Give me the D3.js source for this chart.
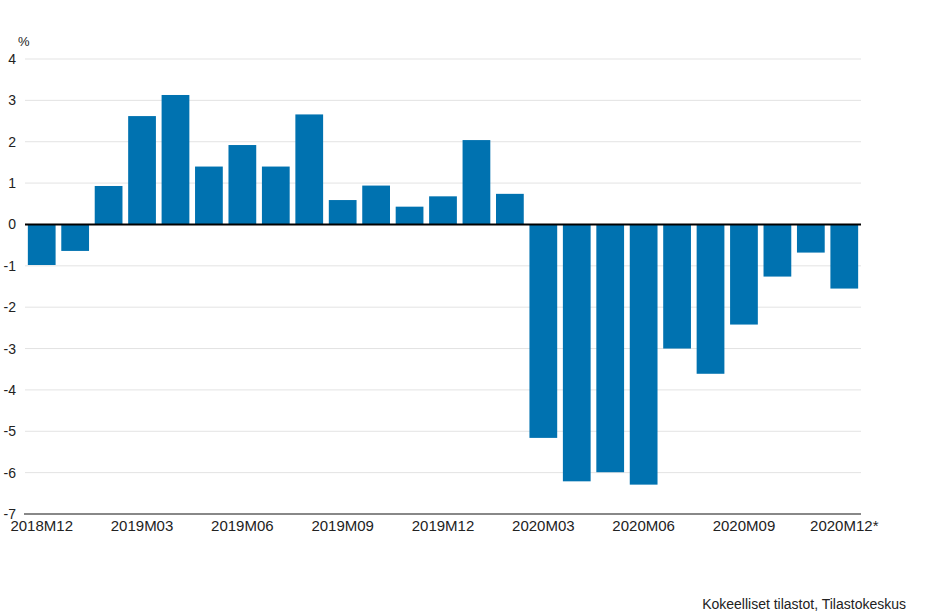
<!DOCTYPE html>
<html>
<head>
<meta charset="utf-8">
<script src="https://cdn.jsdelivr.net/npm/d3@7"></script>
<style>
  body { margin: 0; background: #fff; }
  svg { font-family: "Liberation Sans", Arial, sans-serif; }
</style>
</head>
<body>
<svg id="chart" width="926" height="615"></svg>
<script>
// months shown on the x axis
var months = ["2018M12","2019M01","2019M02","2019M03","2019M04","2019M05","2019M06",
  "2019M07","2019M08","2019M09","2019M10","2019M11","2019M12","2020M01","2020M02",
  "2020M03","2020M04","2020M05","2020M06","2020M07","2020M08","2020M09","2020M10",
  "2020M11","2020M12*"];

// change, %
var values = [-0.98, -0.64, 0.93, 2.62, 3.13, 1.40, 1.92, 1.40, 2.66, 0.59, 0.94, 0.43,
  0.68, 2.04, 0.74, -5.16, -6.21, -5.99, -6.29, -3.00, -3.61, -2.42, -1.26, -0.68, -1.55];

var yTicks = [4, 3, 2, 1, 0, -1, -2, -3, -4, -5, -6, -7];
var xTickLabels = ["2018M12","2019M03","2019M06","2019M09","2019M12","2020M03","2020M06","2020M09","2020M12*"];

var plotL = 25, plotR = 861, plotT = 59, plotB = 514;

var svg = d3.select('#chart');

var x = d3.scaleBand()
  .domain(months)
  .range([plotL, plotR])
  .paddingInner(0.17)
  .paddingOuter(0.085);

var y = d3.scaleLinear()
  .domain([-7, 4])
  .range([plotB, plotT]);

// grid lines
svg.append('g')
  .selectAll('line')
  .data(yTicks.filter(d => d != 0 && d != -7))
  .enter().append('line')
  .attr('x1', plotL).attr('x2', plotR)
  .attr('y1', d => y(d)).attr('y2', d => y(d))
  .attr('stroke', '#e3e3e3')
  .attr('stroke-width', 1);

// y labels
svg.append('g')
  .selectAll('text')
  .data(yTicks)
  .enter().append('text')
  .attr('x', 16)
  .attr('y', d => y(d) + 5)
  .attr('text-anchor', 'end')
  .attr('font-size', 14)
  .attr('fill', '#222')
  .text(d => d);

svg.append('text')
  .attr('x', 18).attr('y', 46)
  .attr('font-size', 13)
  .attr('fill', '#222')
  .text('%');

// bars
svg.append('g')
  .selectAll('rect')
  .data(values)
  .enter().append('rect')
  .attr('x', (d, i) => x(months[i]))
  .attr('width', x.bandwidth())
  .attr('y', d => d > 0 ? y(d) : y(0))
  .attr('height', d => Math.abs(y(d) - y(0)))
  .attr('fill', '#0072b0');

// zero line
svg.append('line')
  .attr('x1', plotL).attr('x2', plotR)
  .attr('y1', y(0)).attr('y2', y(0))
  .attr('stroke', '#000')
  .attr('stroke-width', 2);

// bottom axis
svg.append('line')
  .attr('x1', plotL - 1).attr('x2', plotR)
  .attr('y1', y(-7)).attr('y2', y(-7))
  .attr('stroke', '#888')
  .attr('stroke-width', 2);

var xAxis = d3.axisBottom(x)
  .tickValues(xTickLabels)
  .tickSize(0)
  .tickPadding(0);

var gx = svg.append('g')
  .attr('transform', 'translate(0,' + plotB + ')')
  .call(xAxis);
gx.select('.domain').remove();
gx.selectAll('text')
  .attr('y', 17)
  .attr('dy', null)
  .attr('font-size', 15)
  .attr('font-family', '"Liberation Sans", Arial, sans-serif')
  .attr('fill', '#222');

// source
svg.append('text')
  .attr('x', 906).attr('y', 609)
  .attr('text-anchor', 'end')
  .attr('font-size', 14)
  .attr('fill', '#222')
  .text('Kokeelliset tilastot, Tilastokeskus');
</script>
</body>
</html>
